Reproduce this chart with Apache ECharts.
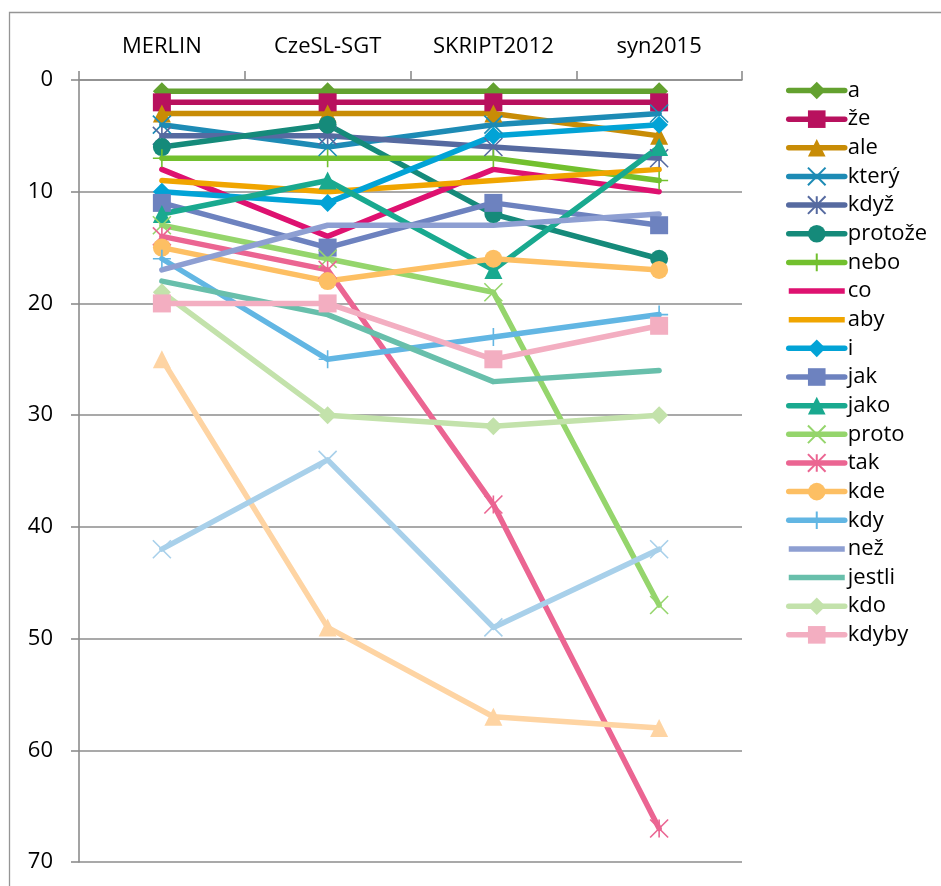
<!DOCTYPE html>
<html>
<head>
<meta charset="utf-8">
<script src="https://cdn.jsdelivr.net/npm/echarts@6/dist/echarts.min.js"></script>
<style>
  html, body { margin: 0; padding: 0; background: #ffffff; }
  #chart { width: 941px; height: 886px; }
</style>
</head>
<body>
<div id="chart"></div>
<script>
// Frequency rank of Czech conjunctions in four corpora (rank 1 = most frequent)
const corpora = ['MERLIN', 'CzeSL-SGT', 'SKRIPT2012', 'syn2015'];

const rankA       = [1, 1, 1, 1];
const rankZe      = [2, 2, 2, 2];
const rankAle     = [3, 3, 3, 5];
const rankKtery   = [4, 6, 4, 3];
const rankKdyz    = [5, 5, 6, 7];
const rankProtoze = [6, 4, 12, 16];
const rankNebo    = [7, 7, 7, 9];
const rankCo      = [8, 14, 8, 10];
const rankAby     = [9, 10, 9, 8];
const rankI       = [10, 11, 5, 4];
const rankJak     = [11, 15, 11, 13];
const rankJako    = [12, 9, 17, 6];
const rankProto   = [13, 16, 19, 47];
const rankTak     = [14, 17, 38, 67];
const rankKde     = [15, 18, 16, 17];
const rankKdy     = [16, 25, 23, 21];
const rankNez     = [17, 13, 13, 12];
const rankJestli  = [18, 21, 27, 26];
const rankKdo     = [19, 30, 31, 30];
const rankKdyby   = [20, 20, 25, 22];
const rankPokud   = [25, 49, 57, 58];
const rankZda     = [42, 34, 49, 42];

const seriesNames = ['a', 'že', 'ale', 'který', 'když', 'protože', 'nebo', 'co', 'aby', 'i',
  'jak', 'jako', 'proto', 'tak', 'kde', 'kdy', 'než', 'jestli', 'kdo', 'kdyby', 'pokud', 'zda'];
const seriesValues = [rankA, rankZe, rankAle, rankKtery, rankKdyz, rankProtoze, rankNebo, rankCo,
  rankAby, rankI, rankJak, rankJako, rankProto, rankTak, rankKde, rankKdy, rankNez, rankJestli,
  rankKdo, rankKdyby, rankPokud, rankZda];
// only the first twenty fit into the legend box
const legendCount = 20;

// ---- styling ----
const colors = ['#63a12f', '#b8115e', '#c88c06', '#1d8bb5', '#566aa0', '#158a7a', '#72c02e',
  '#de1170', '#f0a500', '#02a3d6', '#6d82bf', '#19a98f', '#95d56c', '#eb6592', '#fdbf63',
  '#62b6e3', '#8e9fd2', '#68bfab', '#c3e2ab', '#f3aec1', '#fed4a3', '#a8d0ea'];

const X_MARK = 'path://M0,0L10,10M10,0L0,10';
const STAR_MARK = 'path://M0,0L10,10M10,0L0,10M5,0L5,10';
const PLUS_MARK = 'path://M5,0L5,10M0,5L10,5';
const markers = ['diamond', 'rect', 'triangle', X_MARK, STAR_MARK, 'circle', PLUS_MARK, 'none', 'none',
  'diamond', 'rect', 'triangle', X_MARK, STAR_MARK, 'circle', PLUS_MARK, 'none', 'none',
  'diamond', 'rect', 'triangle', X_MARK];

const LINE_W = 5.5;
const LEGEND_W = 56;
const LEGEND_H = 22;
// plain line swatch for legend entries without a marker (bbox spans the full icon box)
const PLAIN_LINE_ICON = 'path://M0,0L0.01,0M0,' + (LEGEND_H / 2 - LINE_W / 2) + 'L' + LEGEND_W + ',' +
  (LEGEND_H / 2 - LINE_W / 2) + 'L' + LEGEND_W + ',' + (LEGEND_H / 2 + LINE_W / 2) + 'L0,' +
  (LEGEND_H / 2 + LINE_W / 2) + 'ZM' + LEGEND_W + ',' + LEGEND_H + 'L' + (LEGEND_W - 0.01) + ',' + LEGEND_H;

const FONT = '"Open Sans", "Noto Sans", sans-serif';
const AXIS_GRAY = '#8c8c8c';

const series = seriesNames.map(function (name, i) {
  const sym = markers[i];
  const stroked = sym.indexOf('path://') === 0;
  return {
    name: name,
    type: 'line',
    data: seriesValues[i],
    symbol: sym,
    symbolSize: 18,
    showAllSymbol: true,
    lineStyle: { color: colors[i], width: LINE_W, cap: 'round', join: 'round' },
    itemStyle: stroked
      ? { color: colors[i], borderColor: colors[i], borderWidth: 1.6 }
      : { color: colors[i], borderWidth: 0 },
    emphasis: { disabled: true },
    z: 2
  };
});

const legendData = seriesNames.slice(0, legendCount).map(function (name, i) {
  return markers[i] === 'none' ? { name: name, icon: PLAIN_LINE_ICON } : { name: name };
});

const chart = echarts.init(document.getElementById('chart'), null, { renderer: 'canvas' });
chart.setOption({
  animation: false,
  backgroundColor: '#ffffff',
  textStyle: { fontFamily: FONT },
  graphic: [{
    type: 'rect',
    silent: true,
    shape: { x: 9.5, y: 12.5, width: 1000, height: 1000 },
    style: { fill: 'none', stroke: '#959595', lineWidth: 1.3 }
  }],
  grid: { left: 79, right: 199, top: 80, bottom: 24, containLabel: false },
  legend: {
    data: legendData,
    orient: 'vertical',
    left: 781,
    top: 74.5,
    itemWidth: LEGEND_W,
    itemHeight: LEGEND_H,
    itemGap: 6.65,
    selectedMode: false,
    lineStyle: { width: LINE_W, cap: 'round' },
    textStyle: { fontFamily: FONT, fontSize: 22, color: '#000000', padding: [0, 0, 0, -2] }
  },
  xAxis: {
    type: 'category',
    position: 'top',
    data: corpora,
    boundaryGap: true,
    axisLine: { show: true, lineStyle: { color: AXIS_GRAY, width: 1.6 } },
    axisTick: { show: true, inside: false, length: 9, alignWithLabel: false, lineStyle: { color: AXIS_GRAY, width: 1.6 } },
    axisLabel: { fontFamily: FONT, fontSize: 22, color: '#000000', margin: 22 },
    splitLine: { show: false }
  },
  yAxis: {
    type: 'value',
    inverse: true,
    min: 0,
    max: 70,
    interval: 10,
    axisLine: { show: true, lineStyle: { color: AXIS_GRAY, width: 1.6 } },
    axisTick: { show: true, length: 8, lineStyle: { color: AXIS_GRAY, width: 1.6 } },
    axisLabel: { fontFamily: FONT, fontSize: 22, color: '#000000', margin: 26 },
    splitLine: { show: true, lineStyle: { color: AXIS_GRAY, width: 1.6 } }
  },
  series: series
});
</script>
</body>
</html>
